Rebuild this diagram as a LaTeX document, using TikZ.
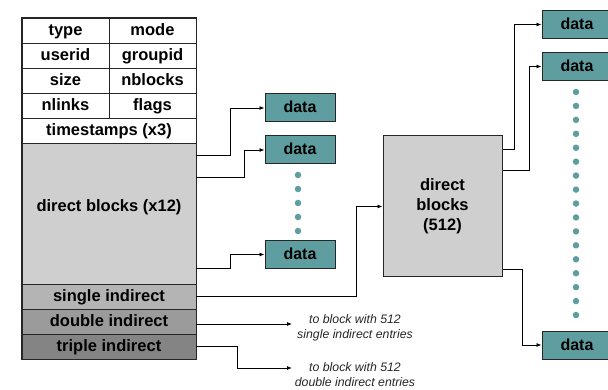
\documentclass[tikz,border=0pt]{standalone}
\usepackage{fontspec}
\setmainfont{Liberation Sans}
\usetikzlibrary{arrows.meta}
\definecolor{tealbox}{HTML}{5F9EA0}
\definecolor{ga}{HTML}{CFCFCF}
\definecolor{gb}{HTML}{B4B4B4}
\definecolor{gc}{HTML}{9B9B9B}
\definecolor{gd}{HTML}{848484}
\begin{document}
\begin{tikzpicture}[x=1pt,y=-1pt,
  cell/.style={draw=black!85, line width=0.9pt, inner sep=0pt, minimum height=25pt,
    text height=14pt, text depth=4pt, font=\fontsize{16.5}{18}\selectfont\bfseries},
  half/.style={cell, minimum width=87pt},
  full/.style={cell, minimum width=174pt},
  databox/.style={draw=black!85, line width=1pt, fill=tealbox, minimum width=70pt,
    minimum height=28pt, inner sep=0pt, text height=13pt, text depth=3pt,
    font=\fontsize{16}{18}\selectfont\bfseries},
  conn/.style={draw=black, line width=0.8pt},
  arr/.style={conn, -{Latex[length=5pt,width=4pt]}},
  tdot/.style={circle, fill=tealbox, inner sep=0pt, minimum size=6.5pt},
  note/.style={font=\fontsize{12.3}{15}\selectfont\itshape, align=center, text=black!85}]
\useasboundingbox (0,0) rectangle (608,390);

% inode table
\node[half] (type) at (65.5,30.5) {type};
\node[half] (mode) at (152.5,30.5) {mode};
\node[half] (userid) at (65.5,55.5) {userid};
\node[half] (groupid) at (152.5,55.5) {groupid};
\node[half] (size) at (65.5,80.5) {size};
\node[half] (nblocks) at (152.5,80.5) {nblocks};
\node[half] (nlinks) at (65.5,105.5) {nlinks};
\node[half] (flags) at (152.5,105.5) {flags};
\node[full] (ts) at (109,130.5) {timestamps (x3)};
\node[full, fill=ga, minimum height=141pt, text height=12pt, text depth=15.5pt] (direct) at (109,213.5) {direct blocks (x12)};
\node[full, fill=gb] (single) at (109,296.5) {single indirect};
\node[full, fill=gc] (double) at (109,321.5) {double indirect};
\node[full, fill=gd] (triple) at (109,346.5) {triple indirect};
\draw[line width=1.6pt, black!85] (type.north west) rectangle (triple.south east);

% first-level data blocks
\node[databox] (d1) at (300,108) {data};
\node[databox] (d2) at (300,150) {data};
\node[databox] (d3) at (300,254.5) {data};
\foreach \i in {0,...,4}
  \node[tdot] (ld\i) at (298,175+14*\i) {};

\draw[arr] ([yshift=-13pt]direct.north east) -- ++(34,0) |- (d1.west);
\draw[arr] ([yshift=-35pt]direct.north east) -- ++(48,0) |- (d2.west);
\draw[arr] ([yshift=16pt]direct.south east) -- ++(34,0) |- (d3.west);

% indirect block
\node[draw=black!85, line width=1pt, fill=ga, minimum width=119pt, minimum height=141pt,
  align=center, font=\fontsize{16.5}{20}\selectfont\bfseries] (db) at (442.5,206.5)
  {direct\\blocks\\(512)};
\draw[arr] (single.east) -- (356,296.5) |- (db.west);

% second-level data blocks
\node[databox] (r1) at (577,24.5) {data};
\node[databox] (r2) at (577,66.5) {data};
\node[databox] (r3) at (577,345) {data};
\foreach \i in {0,...,16}
  \node[tdot] (rd\i) at (576,92+13.94*\i) {};

\draw[arr] ([yshift=-14pt]db.north east) -- ++(12,0) |- (r1.west);
\draw[arr] ([yshift=-35pt]db.north east) -- ++(27,0) |- (r2.west);
\draw[arr] ([yshift=8pt]db.south east) -- ++(20,0) |- (r3.west);

% double / triple indirect
\coordinate (e1) at (292,324);
\coordinate (e2) at (292,368);
\draw[arr] ([yshift=-2.5pt]double.east) -- (e1);
\draw[arr] (triple.east) -- (237,346.5) |- (e2);
\node[note] (n1) at (355,328) {to block with 512\\single indirect entries};
\node[note] (n2) at (355,375) {to block with 512\\double indirect entries};
\end{tikzpicture}
\end{document}
